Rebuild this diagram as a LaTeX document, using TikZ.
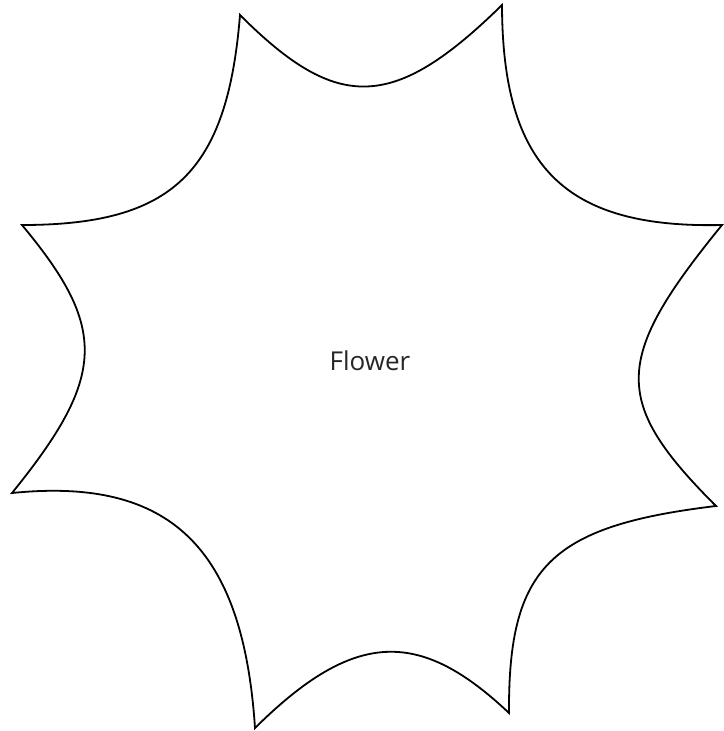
\documentclass[tikz,border=0pt]{standalone}
\usepackage{fontspec}
\setmainfont{Open Sans}
\begin{document}
\begin{tikzpicture}[x=1pt,y=-1pt,
  petal/.style={draw=black,line width=1.8pt,line join=miter,fill=white},
  label/.style={font=\fontsize{26}{30}\selectfont,text=black!85,inner sep=0pt}]
\useasboundingbox (0,0) rectangle (723,731);
\coordinate (p1) at (240,15);
\coordinate (p2) at (502,5);
\coordinate (p3) at (722,225);
\coordinate (p4) at (716,506);
\coordinate (p5) at (509,713);
\coordinate (p6) at (255,728);
\coordinate (p7) at (12,493);
\coordinate (p8) at (22,225);
\path[petal] (p1)
  .. controls (337,112) and (393,112) .. (p2)
  .. controls (502.4,166.7) and (564.6,228.6) .. (p3)
  .. controls (612.5,359.3) and (611.5,401.5) .. (p4)
  .. controls (549.6,526) and (508.2,567.4) .. (p5)
  .. controls (420,629) and (355,629) .. (p6)
  .. controls (243.1,547.4) and (170.2,476.9) .. (p7)
  .. controls (106.3,376.6) and (108.1,328.3) .. (p8)
  .. controls (172.75,225) and (227.25,172.5) .. (p1) -- cycle;
\node[label] (flower) at (370,361) {Flower};
\end{tikzpicture}
\end{document}
